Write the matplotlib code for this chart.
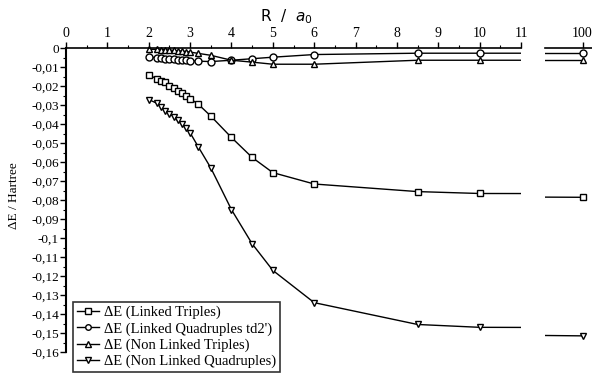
import matplotlib
matplotlib.use('Agg')
import matplotlib.pyplot as plt
from matplotlib.ticker import MultipleLocator, FuncFormatter, FixedLocator

# distances R / a0
R = [2.0, 2.2, 2.3, 2.4, 2.5, 2.6, 2.7, 2.8, 2.9, 3.0, 3.2, 3.5, 4.0, 4.5, 5.0, 6.0, 8.5, 10.0, 100.0]

# energy differences (Hartree)
linked_triples = [-0.0142, -0.016, -0.017, -0.018, -0.020, -0.021, -0.0225, -0.0235, -0.025, -0.0265,
                  -0.0295, -0.0357, -0.047, -0.0575, -0.0655, -0.0715, -0.0755, -0.0765, -0.0785]
linked_quads = [-0.0047, -0.005, -0.0052, -0.0054, -0.0056, -0.0058, -0.006, -0.0062, -0.0064, -0.0066,
                -0.0068, -0.007, -0.0063, -0.0055, -0.0047, -0.0033, -0.0026, -0.0026, -0.0026]
nonlinked_triples = [-0.0005, -0.0006, -0.0007, -0.0008, -0.0009, -0.0011, -0.0013, -0.0015, -0.0017, -0.002,
                     -0.0027, -0.0037, -0.0063, -0.0073, -0.0084, -0.0084, -0.0063, -0.0063, -0.0063]
nonlinked_quads = [-0.027, -0.029, -0.031, -0.033, -0.0345, -0.036, -0.038, -0.040, -0.042, -0.0445,
                   -0.052, -0.063, -0.085, -0.103, -0.117, -0.134, -0.1455, -0.147, -0.1515]

labels = ["ΔE (Linked Triples)", "ΔE (Linked Quadruples td2')",
          "ΔE (Non Linked Triples)", "ΔE (Non Linked Quadruples)"]
series = [linked_triples, linked_quads, nonlinked_triples, nonlinked_quads]
markers = ['s', 'o', '^', 'v']

plt.rcParams['font.family'] = ['Liberation Serif', 'DejaVu Serif']

fig = plt.figure(figsize=(5.92, 3.80), dpi=100)
ax = fig.add_axes([66/592, 1-352/380, (521-66)/592, (352-46)/380])
ax2 = fig.add_axes([545/592, 1-352/380, 47/592, (352-46)/380])

handles = []
for a in (ax, ax2):
    for y, m, lab in zip(series, markers, labels):
        h, = a.plot(R, y, color='black', lw=1.0, marker=m, markersize=5,
                    markerfacecolor='white', markeredgecolor='black', markeredgewidth=1.0,
                    label=lab)
        if a is ax:
            handles.append(h)
    a.set_ylim(-0.16, 0.0012)
    a.spines['top'].set_position(('data', 0))
    a.spines['bottom'].set_visible(False)
    a.spines['right'].set_visible(False)
    a.xaxis.tick_top()
    a.tick_params(axis='x', direction='out', length=4, width=1, pad=2, labelsize=10)
    a.tick_params(axis='x', which='minor', direction='out', length=2, width=0.8)

ax.set_xlim(0, 11)
ax.xaxis.set_major_locator(MultipleLocator(1))
ax.xaxis.set_minor_locator(MultipleLocator(0.5))
ax.spines['left'].set_linewidth(1.5)
ax.spines['left'].set_bounds(-0.16, 0)
ax.spines['top'].set_linewidth(1.2)
ax.yaxis.set_major_locator(MultipleLocator(0.01))
ax.yaxis.set_minor_locator(MultipleLocator(0.005))
ax.yaxis.set_major_formatter(FuncFormatter(lambda v, p: '{:g}'.format(round(v, 2)).replace('.', ',')))
ax.tick_params(axis='y', direction='out', length=4, width=1, pad=1, labelsize=9.5)
ax.tick_params(axis='y', which='minor', direction='out', length=2, width=0.8)

ax2.set_xlim(96, 101)
ax2.xaxis.set_major_locator(FixedLocator([100]))
ax2.spines['left'].set_visible(False)
ax2.spines['top'].set_linewidth(1.2)
ax2.set_yticks([])

fig.text(286/592, 1-17/380, 'R  /  $a_0$', ha='center', va='center', fontsize=11,
         family='DejaVu Sans')
fig.text(14/592, 1-196/380, 'ΔE / Hartree', rotation=90, ha='center', va='center', fontsize=9.5)

leg = fig.legend(handles=handles, loc='upper left', bbox_to_anchor=(73/592, 1-302/380),
                 frameon=True, fancybox=False, edgecolor='black', fontsize=10.5,
                 handlelength=1.5, labelspacing=0.2, borderpad=0.25, handletextpad=0.4,
                 borderaxespad=0, markerscale=0.8)
leg.get_frame().set_linewidth(1.2)

fig.savefig('out.png', dpi=100)
